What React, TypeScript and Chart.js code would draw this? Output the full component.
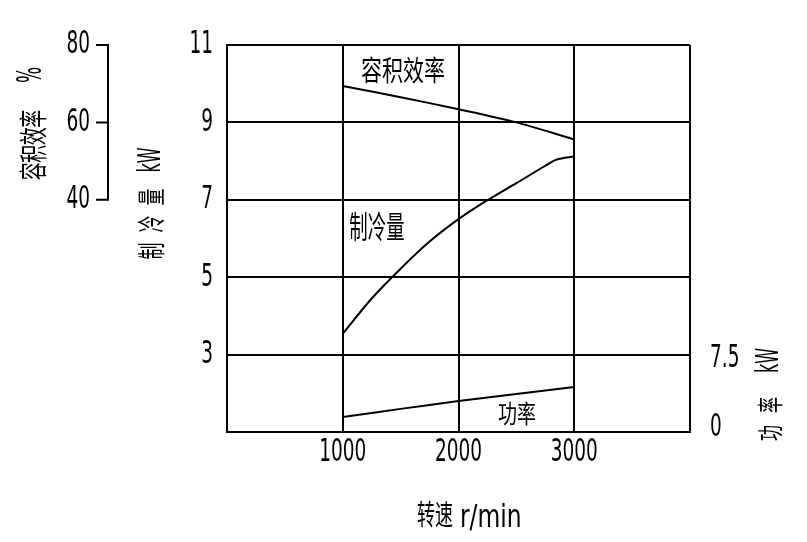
import { useEffect, useRef } from "react";
import { Chart, registerables } from "chart.js";

Chart.register(...registerables);

// ---- data ----
const speedTickLabels = [1000, 2000, 3000];
const coolingTickLabels = [3, 5, 7, 9, 11];
const effTickLabels = [40, 60, 80];
const powerTickLabels = [0, 7.5];

const coolingSpeeds = [1000, 1250, 1500, 1750, 2000, 2250, 2500, 2750, 2850, 3000];
const coolingKW = [3.54, 4.45, 5.22, 5.92, 6.5, 6.99, 7.43, 7.88, 8.04, 8.12];

const effSpeeds = [1000, 1500, 2000, 2500, 3000];
const effPct = [69.4, 66.5, 63.4, 60.0, 55.6];

const powerSpeeds = [1000, 1500, 2000, 2500, 3000];
const powerKW = [1.46, 2.24, 3.0, 3.68, 4.36];

const LATIN = "'DejaVu Sans', sans-serif";
const CJK = "'Noto Sans CJK SC', sans-serif";

type TxtOpts = {
  font: string;
  size: number;
  sx?: number;
  sy?: number;
  rot?: number;
  align?: CanvasTextAlign;
  base?: CanvasTextBaseline;
  pitch?: number;
};

function txt(ctx: CanvasRenderingContext2D, s: string, x: number, y: number, o: TxtOpts) {
  const sx = o.sx ?? 1;
  const sy = o.sy ?? 1;
  ctx.save();
  ctx.translate(x, y);
  if (o.rot) ctx.rotate(o.rot);
  ctx.scale(sx, sy);
  ctx.font = `${o.size}px ${o.font}`;
  ctx.fillStyle = "#000";
  ctx.textBaseline = o.base ?? "middle";
  if (o.pitch) {
    const chars = Array.from(s);
    const p = o.pitch / sx;
    const start = -((chars.length - 1) * p) / 2;
    ctx.textAlign = "center";
    chars.forEach((c, i) => ctx.fillText(c, start + i * p, 0));
  } else {
    ctx.textAlign = o.align ?? "center";
    ctx.fillText(s, 0, 0);
  }
  ctx.restore();
}

const digit = { font: LATIN, size: 25, sx: 0.74, sy: 1.3 };
const UP = -Math.PI / 2;

const labelsPlugin = {
  id: "labelsPlugin",
  afterDraw(chart: any) {
    const ctx: CanvasRenderingContext2D = chart.ctx;
    const { x, y, yEff, yPow } = chart.scales;
    const area = chart.chartArea;

    coolingTickLabels.forEach((v) => {
      txt(ctx, String(v), area.left - 14, y.getPixelForValue(v), { ...digit, align: "right" });
    });
    speedTickLabels.forEach((v) => {
      txt(ctx, String(v), x.getPixelForValue(v), 453, { ...digit, align: "center" });
    });

    const axX = 108;
    ctx.save();
    ctx.strokeStyle = "#000";
    ctx.lineWidth = 2;
    ctx.beginPath();
    ctx.moveTo(axX, yEff.getPixelForValue(effTickLabels[effTickLabels.length - 1]));
    ctx.lineTo(axX, yEff.getPixelForValue(effTickLabels[0]));
    effTickLabels.forEach((v) => {
      const py = yEff.getPixelForValue(v);
      ctx.moveTo(axX - 12, py);
      ctx.lineTo(axX + 1, py);
    });
    ctx.stroke();
    ctx.restore();
    effTickLabels.forEach((v) => {
      txt(ctx, String(v), 90, yEff.getPixelForValue(v), { ...digit, align: "right" });
    });

    powerTickLabels.forEach((v, i) => {
      const py = yPow.getPixelForValue(v) + (i === 0 ? -4 : 4);
      txt(ctx, String(v), area.right + 20, py, { ...digit, align: "left" });
    });

    txt(ctx, "容积效率", x.getPixelForValue(1521), y.getPixelForValue(10.35), {
      font: CJK, size: 21, sx: 1, sy: 1.35,
    });
    txt(ctx, "制冷量", x.getPixelForValue(1296), y.getPixelForValue(6.32), {
      font: CJK, size: 19, sx: 0.97, sy: 1.6,
    });
    txt(ctx, "功率", x.getPixelForValue(2506), y.getPixelForValue(1.48), {
      font: CJK, size: 19, sx: 1, sy: 1.3,
    });

    txt(ctx, "容积效率", 33.5, 145, { font: CJK, size: 18, sy: 1.6, rot: UP, pitch: 17.5 });
    txt(ctx, "%", 32.5, 75, { font: LATIN, size: 20, sx: 0.85, sy: 1.65, rot: UP });

    txt(ctx, "制冷量", 151.5, 224, { font: CJK, size: 17, sy: 1.7, rot: UP, pitch: 27 });
    txt(ctx, "kW", 152, 160, { font: LATIN, size: 20, sx: 0.8, sy: 1.6, rot: UP });

    txt(ctx, "功率", 769.5, 419, { font: CJK, size: 16, sy: 1.65, rot: UP, pitch: 28 });
    txt(ctx, "kW", 769.5, 360.5, { font: LATIN, size: 20, sx: 0.8, sy: 1.6, rot: UP });

    txt(ctx, "转速", 435, 514, { font: CJK, size: 18, sy: 1.6, pitch: 18 });
    txt(ctx, "r/min", 460, 527, { font: LATIN, size: 26, sx: 0.9, sy: 1.2, align: "left", base: "alphabetic" });
  },
};

export default function App() {
  const ref = useRef<HTMLCanvasElement | null>(null);

  useEffect(() => {
    if (!ref.current) return;
    const zero = (s: any) => {
      s.width = 0;
      s.height = 0;
    };
    const gridOpts = { color: "#000", lineWidth: 2, drawTicks: false };
    const chart = new Chart(ref.current, {
      type: "line",
      data: {
        datasets: [
          {
            label: "容积效率",
            data: effSpeeds.map((s, i) => ({ x: s, y: effPct[i] })),
            yAxisID: "yEff",
          },
          {
            label: "制冷量",
            data: coolingSpeeds.map((s, i) => ({ x: s, y: coolingKW[i] })),
            yAxisID: "y",
          },
          {
            label: "功率",
            data: powerSpeeds.map((s, i) => ({ x: s, y: powerKW[i] })),
            yAxisID: "yPow",
          },
        ].map((d) => ({
          ...d,
          borderColor: "#000",
          borderWidth: 2,
          pointRadius: 0,
          fill: false,
          tension: 0.3,
        })),
      },
      options: {
        animation: false,
        responsive: false,
        maintainAspectRatio: false,
        layout: { padding: { left: 227, top: 45, right: 117, bottom: 110 } },
        plugins: { legend: { display: false }, tooltip: { enabled: false } },
        scales: {
          x: {
            type: "linear",
            min: 0,
            max: 4000,
            ticks: { stepSize: 1000, display: false },
            grid: gridOpts,
            border: { color: "#000", width: 2 },
            afterFit: zero,
          },
          y: {
            type: "linear",
            min: 1,
            max: 11,
            ticks: { stepSize: 2, display: false },
            grid: gridOpts,
            border: { color: "#000", width: 2 },
            afterFit: zero,
          },
          yEff: { type: "linear", display: false, min: -20, max: 80 },
          yPow: { type: "linear", display: false, min: 0, max: 37.5 },
        },
      },
      plugins: [labelsPlugin],
    });
    return () => chart.destroy();
  }, []);

  return (
    <div style={{ position: "absolute", left: 0, top: 0, width: 807, height: 542, background: "#fff" }}>
      <canvas ref={ref} width={807} height={542} style={{ display: "block" }} />
    </div>
  );
}
